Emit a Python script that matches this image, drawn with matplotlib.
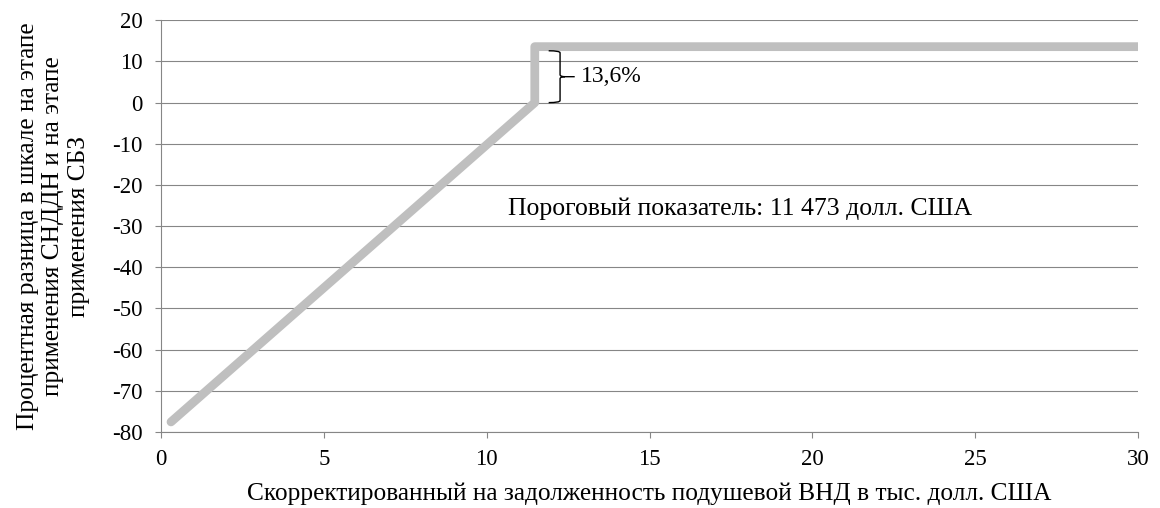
import matplotlib.pyplot as plt
from matplotlib.path import Path
from matplotlib.patches import PathPatch

plt.rcParams['font.family'] = ['Liberation Serif', 'DejaVu Serif']
plt.rcParams['axes.unicode_minus'] = False

# данные
gni_x = [0.3, 11.473, 11.473, 30.0]
diff_y = [-77.6, 0.0, 13.6, 13.6]
threshold_text = 'Пороговый показатель: 11 473 долл. США'
jump_text = '13,6%'
x_ticks = [0, 5, 10, 15, 20, 25, 30]
y_ticks = [20, 10, 0, -10, -20, -30, -40, -50, -60, -70, -80]

fig = plt.figure(figsize=(11.6, 5.08), dpi=100)
ax = fig.add_axes([0.139, 0.150, 0.842, 0.810])

ax.plot(gni_x, diff_y, color='#bfbfbf', lw=6.3, solid_joinstyle='round',
        solid_capstyle='round', zorder=3)

ax.set_xlim(0, 30)
ax.set_ylim(-80, 20)
ax.set_xticks(x_ticks)
ax.set_yticks(y_ticks)
ax.grid(axis='y', color='#868686', lw=0.8)
ax.set_axisbelow(True)
for s in ['top', 'right']:
    ax.spines[s].set_visible(False)
for s in ['left', 'bottom']:
    ax.spines[s].set_color('#868686')
ax.tick_params(colors='#868686', labelcolor='black', labelsize=16.5,
               length=4.5, width=0.8)
ax.tick_params(axis='y', pad=9)
ax.tick_params(axis='x', pad=8)

# фигурная скобка
bx, by0, by1 = 12.25, 0.0, 12.6
mid = (by0 + by1) / 2
verts = [(11.9, by1), (12.25, by1), (bx, by1 - 0.5),
         (bx, mid + 0.5), (bx, mid), (12.4, mid), (12.7, mid),
         (12.4, mid), (bx, mid), (bx, mid - 0.5),
         (bx, by0 + 0.5), (bx, by0), (11.9, by0)]
codes = [Path.MOVETO, Path.CURVE3, Path.CURVE3,
         Path.LINETO, Path.CURVE3, Path.CURVE3, Path.LINETO,
         Path.MOVETO, Path.CURVE3, Path.CURVE3,
         Path.LINETO, Path.CURVE3, Path.CURVE3]
ax.add_patch(PathPatch(Path(verts, codes), fill=False, lw=1.0, color='black', zorder=4))
ax.text(12.9, mid, jump_text, fontsize=17, va='center', ha='left')

ax.text(10.65, -27.4, threshold_text, fontsize=18.5, va='baseline', ha='left')

ax.set_xlabel('Скорректированный на задолженность подушевой ВНД в тыс. долл. США',
              fontsize=18.3, labelpad=9)
ax.set_ylabel('Процентная разница в шкале на этапе\nприменения СНДДН и на этапе\nприменения СБЗ',
              fontsize=18.3, labelpad=16, linespacing=1.2)

fig.savefig('out.png', dpi=100)
